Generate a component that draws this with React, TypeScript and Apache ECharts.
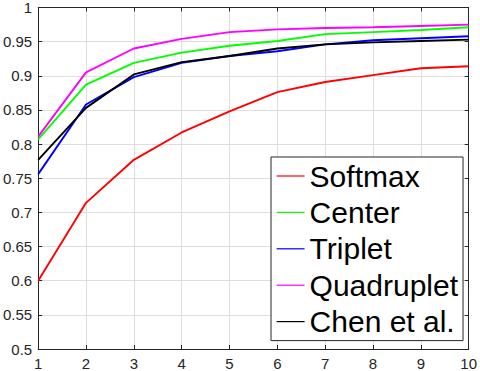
import React, { useEffect, useRef } from "react";
import * as echarts from "echarts";

const xValues = [1, 2, 3, 4, 5, 6, 7, 8, 9, 10];
const seriesNames = ["Softmax", "Center", "Triplet", "Quadruplet", "Chen et al."];
const seriesColors = ["#ff0000", "#00ff00", "#0000ff", "#ff00ff", "#000000"];
const softmax = [0.6, 0.714, 0.777, 0.817, 0.848, 0.876, 0.891, 0.901, 0.911, 0.914];
const center = [0.807, 0.887, 0.919, 0.934, 0.944, 0.951, 0.961, 0.964, 0.967, 0.971];
const triplet = [0.756, 0.858, 0.898, 0.919, 0.929, 0.936, 0.946, 0.952, 0.955, 0.958];
const quadruplet = [0.811, 0.905, 0.94, 0.954, 0.964, 0.968, 0.97, 0.971, 0.973, 0.975];
const chen = [0.777, 0.853, 0.902, 0.92, 0.929, 0.94, 0.946, 0.949, 0.951, 0.953];
const allValues = [softmax, center, triplet, quadruplet, chen];

export default function App() {
  const ref = useRef<HTMLDivElement>(null);
  useEffect(() => {
    document.body.style.margin = "0";
    if (!ref.current) return;
    const chart = echarts.init(ref.current, null, { renderer: "svg" });
    const axisColor = "#262626";
    const gridColor = "#dedede";
    const labelFont = { fontFamily: "Liberation Sans, Arial, Helvetica, sans-serif", fontSize: 15, color: axisColor };
    chart.setOption({
      animation: false,
      backgroundColor: "#ffffff",
      grid: { left: 37.5, right: 8.5, top: 6, bottom: 22, containLabel: false },
      xAxis: [
        {
          type: "value", min: 1, max: 10, interval: 1, position: "bottom",
          axisLine: { show: true, onZero: false, lineStyle: { color: axisColor, width: 1 } },
          axisTick: { show: true, inside: true, length: 4, lineStyle: { color: axisColor } },
          axisLabel: { ...labelFont, margin: 7, formatter: (v: number) => String(v) },
          splitLine: { show: true, lineStyle: { color: gridColor, width: 1 } },
        },
        {
          type: "value", min: 1, max: 10, interval: 1, position: "top",
          axisLine: { show: true, onZero: false, lineStyle: { color: axisColor, width: 1 } },
          axisTick: { show: true, inside: true, length: 4, lineStyle: { color: axisColor } },
          axisLabel: { show: false },
          splitLine: { show: false },
        },
      ],
      yAxis: [
        {
          type: "value", min: 0.5, max: 1, interval: 0.05, position: "left",
          axisLine: { show: true, onZero: false, lineStyle: { color: axisColor, width: 1 } },
          axisTick: { show: true, inside: true, length: 4, lineStyle: { color: axisColor } },
          axisLabel: { ...labelFont, margin: 6, formatter: (v: number) => String(parseFloat(v.toFixed(2))) },
          splitLine: { show: true, lineStyle: { color: gridColor, width: 1 } },
        },
        {
          type: "value", min: 0.5, max: 1, interval: 0.05, position: "right",
          axisLine: { show: true, onZero: false, lineStyle: { color: axisColor, width: 1 } },
          axisTick: { show: true, inside: true, length: 4, lineStyle: { color: axisColor } },
          axisLabel: { show: false },
          splitLine: { show: false },
        },
      ],
      legend: {
        show: true,
        orient: "vertical",
        left: 271,
        top: 157,
        backgroundColor: "#ffffff",
        borderColor: "#262626",
        borderWidth: 1,
        borderRadius: 0,
        padding: [4, 5, 4, 5],
        itemWidth: 28,
        itemHeight: 30,
        itemGap: 6.4,
        itemStyle: { opacity: 0 },
        lineStyle: { width: 1.2 },
        textStyle: {
          fontFamily: "Liberation Sans, Arial, Helvetica, sans-serif",
          fontSize: 30,
          lineHeight: 30,
          color: "#000000",
        },
        data: seriesNames,
      },
      series: seriesNames.map((name, i) => ({
        name,
        type: "line",
        xAxisIndex: 0,
        yAxisIndex: 0,
        symbol: "none",
        data: xValues.map((x, j) => [x, allValues[i][j]]),
        lineStyle: { color: seriesColors[i], width: 1.9 },
        itemStyle: { color: seriesColors[i] },
      })),
    });
    return () => chart.dispose();
  }, []);
  return <div ref={ref} style={{ width: 480, height: 371 }} />;
}
